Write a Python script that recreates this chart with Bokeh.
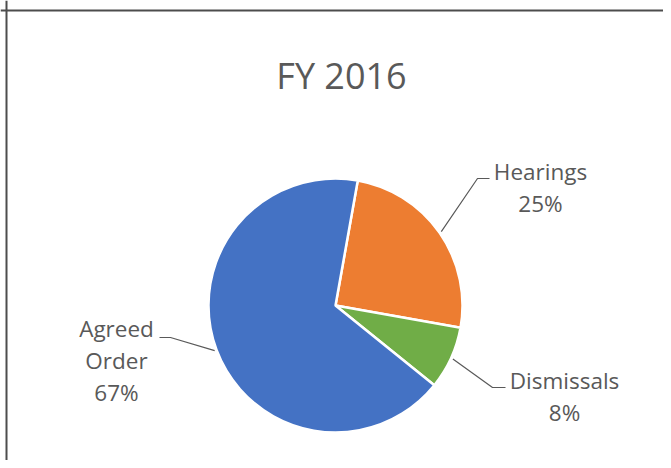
import numpy as np
from bokeh.plotting import figure
from bokeh.models import Range1d, Span, ColumnDataSource
from bokeh.core.properties import value
from bokeh.embed import file_html
from bokeh.resources import INLINE

# ---- data ----
chart_title = "FY 2016"
categories = ["Hearings", "Dismissals", "Agreed Order"]
shares = [25, 8, 67]
colors = ["#ED7D31", "#70AD47", "#4472C4"]

# ---- layout (pixel coordinates from the top-left of the figure, y down) ----
W, H = 663, 460
def Y(py):
    return H - py

cx, cy, R = 335, 305, 127
first_angle_deg = 10.1  # clockwise from 12 o'clock
label_size = 22.5
title_size = 36
label_layout = {
    "Hearings": dict(elbow=(477, 178), end=(489, 178), tx=540, ys=[180, 212], lines=["Hearings"]),
    "Dismissals": dict(elbow=(492, 387), end=(505, 387), tx=564, ys=[389, 421], lines=["Dismissals"]),
    "Agreed Order": dict(elbow=(170, 337), end=(159, 337), tx=116, ys=[337, 369, 401], lines=["Agreed", "Order"]),
}
title_pos = (341, 89)
shift = 0.40  # renderer places baseline lower by ~0.4 em
text_color = "#595959"
font = "Open Sans"

p = figure(width=W, height=H, output_backend="svg", toolbar_location=None,
           x_range=Range1d(0, W), y_range=Range1d(0, H), min_border=0)
p.axis.visible = False
p.grid.visible = False
p.outline_line_color = None
p.background_fill_color = "white"
p.border_fill_color = "white"

# border of chart area (top and left visible)
p.add_layout(Span(location=Y(10), dimension="width", line_color="#4d4d4d", line_width=2))
p.add_layout(Span(location=6, dimension="height", line_color="#4d4d4d", line_width=2))

total = float(sum(shares))
fr = np.array(shares) / total
cum = np.concatenate([[0], np.cumsum(fr)])
theta_start = np.deg2rad(first_angle_deg) + cum[:-1] * 2 * np.pi
theta_end = np.deg2rad(first_angle_deg) + cum[1:] * 2 * np.pi

src = ColumnDataSource(dict(
    cat=categories,
    start=list(np.pi / 2 - theta_start),
    end=list(np.pi / 2 - theta_end),
    color=colors,
))
p.wedge(x=cx, y=Y(cy), radius=R, start_angle="start", end_angle="end",
        direction="clock", fill_color="color", line_color="white", line_width=2.5,
        source=src)

# leader lines and labels
for i, cat in enumerate(categories):
    lay = label_layout[cat]
    mid = (theta_start[i] + theta_end[i]) / 2
    sx = cx + (R + 2) * np.sin(mid)
    sy = cy - (R + 2) * np.cos(mid)
    xs = [sx, lay["elbow"][0], lay["end"][0]]
    ys = [Y(sy), Y(lay["elbow"][1]), Y(lay["end"][1])]
    p.line(xs, ys, line_color="#595959", line_width=1.2)
    lines = lay["lines"] + ["%d%%" % round(shares[i] / total * 100)]
    p.text(x=[lay["tx"]] * len(lines),
           y=[Y(v - shift * label_size) for v in lay["ys"]], text=lines,
           text_font=value(font), text_font_size="%spx" % label_size, text_color=text_color,
           text_align="center", text_baseline="alphabetic")

p.text(x=[title_pos[0]], y=[Y(title_pos[1] - shift * title_size)], text=[chart_title],
       text_font=value(font), text_font_size="%spx" % title_size, text_color=text_color,
       text_align="center", text_baseline="alphabetic")

open("out.html", "w").write(file_html(p, INLINE))
